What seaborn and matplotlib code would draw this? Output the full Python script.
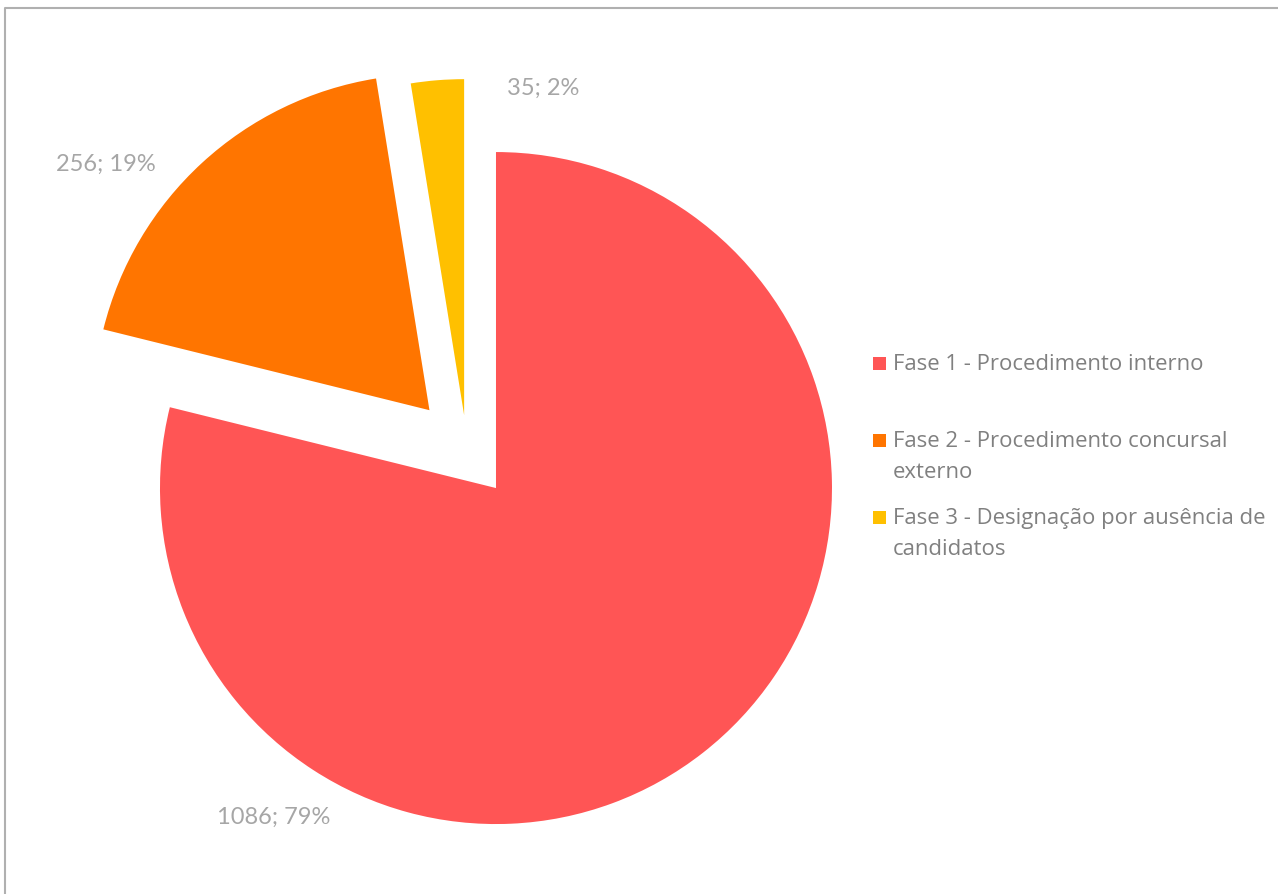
import matplotlib
matplotlib.use("Agg")
import matplotlib.pyplot as plt
import seaborn as sns
from matplotlib.lines import Line2D
from matplotlib.patches import Rectangle

# data
categories = ["Fase 1 - Procedimento interno",
              "Fase 2 - Procedimento concursal\nexterno",
              "Fase 3 - Designação por ausência de\ncandidatos"]
counts = [1086, 256, 35]
pct_labels = [79, 19, 2]
colors = ["#ff5555", "#ff7500", "#ffc000"]
explode = [0.14, 0.165, 0.107]

# label anchors in pie data units (center x, baseline y)
label_pos = [(-0.576, -1.110), (-1.074, 0.833), (0.228, 1.060)]

sns.set_theme(style="white")
plt.rcParams["font.family"] = ["Lato", "DejaVu Sans"]

W, H = 1278, 894
fig = plt.figure(figsize=(W / 100, H / 100), dpi=100)

# pie axes: centre at (467, 451) px, radius 336 px
R, S = 336, 420
cx, cy = 467, 451
ax = fig.add_axes([(cx - S) / W, (H - cy - S) / H, 2 * S / W, 2 * S / H])
ax.pie(counts, colors=colors, explode=explode, startangle=90,
       counterclock=False, radius=1, wedgeprops=dict(linewidth=0))
ax.set_xlim(-S / R, S / R)
ax.set_ylim(-S / R, S / R)
ax.axis("off")

for (x, y), n, p in zip(label_pos, counts, pct_labels):
    ax.text(x, y, f"{n}; {p}%", ha="center", va="baseline",
            fontsize=17, color="#a6a6a6")

# legend drawn by hand so the squares sit on the first line
lx, base0, step, lstep = 893, 370, 77, 31
for i, (lab, col) in enumerate(zip(categories, colors)):
    b = base0 + i * step
    fig.add_artist(Rectangle(((lx - 20) / W, (H - b) / H),
                             13 / W, 13 / H, transform=fig.transFigure,
                             facecolor=col, edgecolor="none"))
    for j, line in enumerate(lab.split("\n")):
        fig.text(lx / W, (H - b - j * lstep) / H, line, ha="left",
                 va="baseline", fontsize=15.9, color="#808080",
                 family=["Open Sans", "DejaVu Sans"])

# chart area border (top and left edges visible)
fig.add_artist(Line2D([5 / W, 5 / W, 1], [0, (H - 8) / H, (H - 8) / H],
                      transform=fig.transFigure, color="#b0b0b0", lw=1.5))

fig.savefig("out.png", dpi=100, facecolor="white")
